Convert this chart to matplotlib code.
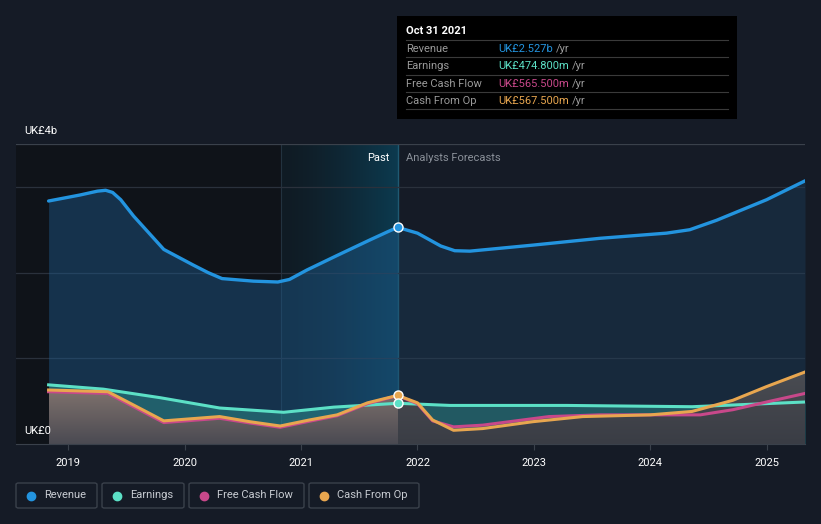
import numpy as np
import matplotlib.pyplot as plt
from matplotlib.colors import LinearSegmentedColormap
from matplotlib.patches import Rectangle, FancyBboxPatch, Polygon

plt.rcParams['font.family'] = ['Roboto', 'DejaVu Sans']

# values, in UK£ billions, x in decimal years
rev_x = [2018.83, 2019.10, 2019.25, 2019.32, 2019.38, 2019.45, 2019.56, 2019.70,
         2019.82, 2020.07, 2020.20, 2020.32, 2020.59, 2020.80, 2020.90, 2021.05,
         2021.31, 2021.59, 2021.75, 2021.83, 2022.00, 2022.20, 2022.32, 2022.45,
         2022.99, 2023.57, 2024.14, 2024.34, 2024.57, 2025.00, 2025.33]
rev_y = [2.835, 2.905, 2.95, 2.96, 2.935, 2.85, 2.66, 2.45,
         2.27, 2.09, 2.00, 1.93, 1.90, 1.89, 1.92, 2.03,
         2.20, 2.38, 2.48, 2.527, 2.46, 2.31, 2.255, 2.25,
         2.32, 2.40, 2.46, 2.50, 2.61, 2.85, 3.07]

earn_x = [2018.83, 2019.30, 2019.79, 2020.30, 2020.85, 2021.28, 2021.83, 2022.28,
          2023.28, 2024.36, 2025.33]
earn_y = [0.69, 0.64, 0.54, 0.42, 0.37, 0.43, 0.475, 0.45,
          0.45, 0.435, 0.49]

cfo_x = [2018.83, 2019.34, 2019.56, 2019.82, 2020.30, 2020.56, 2020.82, 2021.07,
         2021.31, 2021.57, 2021.83, 2022.00, 2022.13, 2022.31, 2022.56, 2022.99,
         2023.42, 2024.00, 2024.36, 2024.71, 2025.00, 2025.33]
cfo_y = [0.63, 0.61, 0.455, 0.27, 0.32, 0.26, 0.21, 0.28,
         0.34, 0.48, 0.5675, 0.48, 0.28, 0.16, 0.18, 0.26,
         0.32, 0.34, 0.38, 0.51, 0.67, 0.84]

fcf_x = [2018.83, 2019.34, 2019.56, 2019.82, 2020.30, 2020.56, 2020.82, 2021.07,
         2021.31, 2021.57, 2021.83, 2022.00, 2022.13, 2022.31, 2022.56, 2023.13,
         2023.57, 2024.00, 2024.43, 2024.71, 2025.00, 2025.33]
fcf_y = [0.61, 0.59, 0.435, 0.25, 0.30, 0.245, 0.195, 0.265,
         0.33, 0.47, 0.5655, 0.47, 0.27, 0.20, 0.22, 0.32,
         0.34, 0.34, 0.34, 0.40, 0.49, 0.59]

years = [2019, 2020, 2021, 2022, 2023, 2024, 2025]
now = 2021.83
band_start = 2020.83

BG = '#151b26'
C_REV = '#2394df'
C_EARN = '#5ce0c6'
C_FCF = '#c8488a'
C_CFO = '#e8a64f'

W, H = 821, 524
fig = plt.figure(figsize=(W / 100, H / 100), dpi=100, facecolor=BG)
ax = fig.add_axes([16 / W, 1 - 444 / H, (805 - 16) / W, 300 / H])
ax.set_facecolor(BG)
x0, x1 = 2018.55, 2025.33
ax.set_xlim(x0, x1)
ax.set_ylim(0, 3.5)

# darker past region and highlighted last year
ax.axvspan(x0, band_start, color='#0f1319', zorder=0)
grad = np.linspace(0, 1, 256).reshape(1, -1) ** 1.4
ax.imshow(grad, extent=[band_start, now, 0, 3.5], aspect='auto',
          cmap=LinearSegmentedColormap.from_list('b', ['#101b24', '#0c3a4f']),
          zorder=0.5, interpolation='bilinear')
ax.axvline(band_start, color='#22323f', lw=0.8, zorder=0.6)
ax.axvline(now, color='#1f5a72', lw=1.0, zorder=0.6)

for g in [1, 2, 3]:
    ax.axhline(g, color='#2a313c', lw=0.9, zorder=0.7)
ax.axhline(3.5, color='#3a414b', lw=0.9, zorder=0.7)

# revenue area, a bit brighter in the past than in the forecast
rx = np.array(rev_x)
ry = np.array(rev_y)
ax.fill_between(rx, ry, 0, where=rx <= now, color='#1e5a8c', alpha=0.45, lw=0, zorder=1)
ax.fill_between(rx, ry, 0, where=rx >= now, color='#1e4a70', alpha=0.30, lw=0, zorder=1)

# earnings area
ax.fill_between(earn_x, earn_y, 0, color='#34a39c', alpha=0.40, lw=0, zorder=1.2)

# cash from op area with a vertical grey gradient
poly = Polygon(list(zip(cfo_x, cfo_y)) + [(cfo_x[-1], 0), (cfo_x[0], 0)], closed=True,
               facecolor='none', edgecolor='none')
ax.add_patch(poly)
vgrad = np.linspace(1, 0, 256).reshape(-1, 1)
past_img = ax.imshow(vgrad, extent=[cfo_x[0], now, 0, 0.7], aspect='auto',
                     cmap=LinearSegmentedColormap.from_list('g', ['#4a4a52', '#857670']),
                     zorder=1.4, interpolation='bilinear')
past_img.set_clip_path(poly)
fut_img = ax.imshow(vgrad, extent=[now, cfo_x[-1], 0, 0.85], aspect='auto',
                    cmap=LinearSegmentedColormap.from_list('f', ['#3a3d45', '#4a4c52']),
                    zorder=1.4, interpolation='bilinear')
fut_img.set_clip_path(poly)

ax.plot(rev_x, rev_y, color=C_REV, lw=2.4, zorder=3, solid_capstyle='round', solid_joinstyle='round')
ax.plot(earn_x, earn_y, color=C_EARN, lw=2.2, zorder=3, solid_joinstyle='round')
ax.plot(fcf_x, fcf_y, color=C_FCF, lw=2.2, zorder=3.1, solid_joinstyle='round')
ax.plot(cfo_x, cfo_y, color=C_CFO, lw=2.2, zorder=3.2, solid_joinstyle='round')

for yv, c in [(2.527, C_REV), (0.5675, C_CFO), (0.4748, C_EARN)]:
    ax.plot([now], [yv], 'o', ms=6.5, mfc=c, mec='white', mew=1.0, zorder=5)

for s in ['top', 'right', 'left']:
    ax.spines[s].set_visible(False)
ax.spines['bottom'].set_color('#3a414b')
ax.set_yticks([])
ax.set_xticks(years)
ax.set_xticklabels([str(y) for y in years], color='white', fontsize=8)
ax.tick_params(axis='x', colors='#3a414b', length=4, width=0.8, pad=6, labelcolor='white')

ax.text(now - 0.07, 3.34, 'Past', color='white', fontsize=8, ha='right', va='center')
ax.text(now + 0.07, 3.34, 'Analysts Forecasts', color='#8a9099', fontsize=8, ha='left', va='center')

fig.text(24 / W, 1 - 131 / H, 'UK£4b', color='white', fontsize=8, va='center')
fig.text(24 / W, 1 - 431 / H, 'UK£0', color='white', fontsize=8, va='center')

# tooltip
fig.add_artist(Rectangle((397 / W, 1 - 119 / H), 340 / W, 103 / H, transform=fig.transFigure,
                         facecolor='black', edgecolor='none', zorder=10))
fig.text(406 / W, 1 - 31 / H, 'Oct 31 2021', color='white', fontsize=8, fontweight='bold',
         va='center', zorder=11)
rows = [('Revenue', 'UK£2.527b', C_REV), ('Earnings', 'UK£474.800m', C_EARN),
        ('Free Cash Flow', 'UK£565.500m', C_FCF), ('Cash From Op', 'UK£567.500m', C_CFO)]
for i, (lab, val, c) in enumerate(rows):
    yy = 49 + i * 17.3
    fig.add_artist(plt.Line2D([406 / W, 728 / W], [1 - (yy - 9) / H] * 2, color='#3a3a3a',
                              lw=0.8, transform=fig.transFigure, zorder=11))
    fig.text(406 / W, 1 - yy / H, lab, color='#9a9a9a', fontsize=8, va='center', zorder=11)
    t = fig.text(498 / W, 1 - yy / H, val, color=c, fontsize=8, va='center', zorder=11)
    fig.canvas.draw()
    bb = t.get_window_extent()
    fig.text(bb.x1 / W + 3 / W, 1 - yy / H, '/yr', color='#9a9a9a', fontsize=8, va='center', zorder=11)
fig.add_artist(plt.Line2D([406 / W, 728 / W], [1 - 109 / H] * 2, color='#3a3a3a',
                          lw=0.8, transform=fig.transFigure, zorder=11))

# legend
legend = [('Revenue', C_REV, 16, 97), ('Earnings', C_EARN, 102, 184),
          ('Free Cash Flow', C_FCF, 189, 304), ('Cash From Op', C_CFO, 309, 419)]
for lab, c, l, r in legend:
    fig.add_artist(FancyBboxPatch((l / W, 1 - 508 / H), (r - l) / W, 25 / H,
                                  boxstyle='round,pad=0,rounding_size=0.003',
                                  transform=fig.transFigure, facecolor='none',
                                  edgecolor='#3a414b', lw=1.0))
    fig.add_artist(plt.Line2D([(l + 15) / W], [1 - 495.5 / H], marker='o', ms=6,
                              color=c, transform=fig.transFigure))
    fig.text((l + 28) / W, 1 - 495.5 / H, lab, color='#c8ccd2', fontsize=8, va='center')

fig.savefig('out.png', dpi=100, facecolor=BG)
